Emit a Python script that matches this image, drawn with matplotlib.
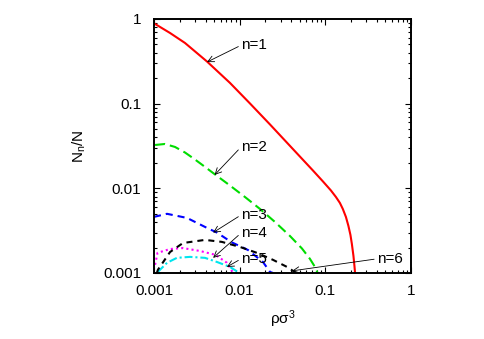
import matplotlib
matplotlib.use("Agg")
import matplotlib.pyplot as plt
from matplotlib.ticker import FixedLocator, FuncFormatter, LogLocator, NullFormatter

plt.rcParams['font.family'] = ['Liberation Sans', 'DejaVu Sans']
plt.rcParams['mathtext.fontset'] = 'custom'
plt.rcParams['mathtext.rm'] = 'Liberation Sans'
plt.rcParams['mathtext.it'] = 'Liberation Sans:italic'
plt.rcParams['font.size'] = 11

# fraction of clusters of size n
x1 = [0.00103, 0.00154, 0.0023, 0.00415, 0.0077, 0.0132, 0.0226, 0.0407, 0.0716, 0.0938,
      0.1161, 0.133, 0.148, 0.160, 0.174, 0.186, 0.1964, 0.204, 0.213, 0.2188, 0.2244]
y1 = [0.873, 0.683, 0.521, 0.315, 0.176, 0.1005, 0.0568, 0.030, 0.01626, 0.01206,
      0.00945, 0.0079, 0.00672, 0.00571, 0.00459, 0.0036, 0.00282, 0.00221, 0.00159, 0.00121, 0.0009]

x2 = [0.00103, 0.00134, 0.00176, 0.0023, 0.00301, 0.00394, 0.00515, 0.0077, 0.01153, 0.01726,
      0.0258, 0.0386, 0.0533, 0.0661, 0.0757, 0.082]
y2 = [0.0325, 0.0334, 0.0308, 0.0265, 0.0219, 0.0179, 0.0146, 0.0108, 0.0079, 0.00571,
      0.00401, 0.00274, 0.00195, 0.00147, 0.00118, 0.00098]

x3 = [0.001, 0.00142, 0.00243, 0.00394, 0.00543, 0.0081, 0.0125, 0.0187, 0.0226, 0.0245]
y3 = [0.0046, 0.005, 0.00447, 0.0035, 0.003, 0.0023, 0.00187, 0.00135, 0.00103, 0.001]

x4 = [0.00103, 0.0011, 0.00154, 0.00218, 0.00344, 0.0052, 0.0071, 0.0084]
y4 = [0.00125, 0.00173, 0.00192, 0.00197, 0.00182, 0.00164, 0.00132, 0.001]

x5 = [0.00111, 0.00142, 0.00185, 0.00263, 0.00394, 0.00543, 0.0077, 0.0095, 0.0101]
y5 = [0.00103, 0.00132, 0.00151, 0.00155, 0.00151, 0.00135, 0.00118, 0.00103, 0.00098]

x6 = [0.00108, 0.00111, 0.00154, 0.00218, 0.00394, 0.0062, 0.0101, 0.0159, 0.0245, 0.0357, 0.0419, 0.045]
y6 = [0.001, 0.00109, 0.00177, 0.00226, 0.00246, 0.00233, 0.00203, 0.00173, 0.00143, 0.00118, 0.00106, 0.001]

labels = ['n=1', 'n=2', 'n=3', 'n=4', 'n=5', 'n=6']
# (text x, text y, arrow tip x, arrow tip y)
label_pos = [
    (0.0104, 0.49, 0.00416, 0.31),
    (0.0104, 0.0308, 0.0051, 0.0144),
    (0.0104, 0.00485, 0.0049, 0.003),
    (0.0104, 0.00297, 0.0049, 0.00151),
    (0.0104, 0.00147, 0.0071, 0.00118),
    (0.40, 0.00147, 0.041, 0.00106),
]

fig = plt.figure(figsize=(4.85, 3.39), dpi=100)
ax = fig.add_axes([0.3175, 0.1947, 0.5299, 0.7493])

lw = 1.5
ax.plot(x1, y1, color='#ff0000', lw=lw)
ax.plot(x2, y2, color='#00dd00', lw=lw, dashes=(4.8, 2.4))
ax.plot(x3, y3, color='#0000ff', lw=lw, dashes=(3.4, 2.4))
ax.plot(x4, y4, color='#ff00ff', lw=lw, dashes=(1.0, 1.5))
ax.plot(x5, y5, color='#00e5ee', lw=lw, dashes=(3.8, 1.4, 1.0, 1.4))
ax.plot(x6, y6, color='black', lw=lw, dashes=(2.9, 2.4))

for lab, (tx, ty, ax_, ay) in zip(labels, label_pos):
    ax.annotate(lab, xy=(ax_, ay), xytext=(tx, ty), ha='left', va='center',
                fontsize=11,
                arrowprops=dict(arrowstyle='->', lw=0.6, color='black',
                                shrinkA=0, shrinkB=0, relpos=(0, 0.5)))

ax.set_xscale('log')
ax.set_yscale('log')
ax.set_xlim(0.001, 1)
ax.set_ylim(0.001, 1)

fmt = FuncFormatter(lambda v, p: f'{v:g}')
for axis in (ax.xaxis, ax.yaxis):
    axis.set_major_locator(FixedLocator([0.001, 0.01, 0.1, 1]))
    axis.set_major_formatter(fmt)
    axis.set_minor_locator(LogLocator(base=10, subs=range(2, 10)))
    axis.set_minor_formatter(NullFormatter())

ax.tick_params(which='both', direction='in', top=True, right=True, width=0.8)
ax.tick_params(which='major', length=4, labelsize=11)
ax.tick_params(axis='x', which='major', pad=8)
ax.tick_params(axis='y', which='major', pad=9)
ax.tick_params(which='minor', length=2)
for s in ax.spines.values():
    s.set_linewidth(1.4)

ax.set_xlabel(r'ρσ$^{\mathregular{3}}$', fontsize=11)
ax.xaxis.set_label_coords(0.5, -0.14)
ax.set_ylabel(r'N$_{\mathregular{n}}$/N', fontsize=11)
ax.yaxis.set_label_coords(-0.255, 0.5)

fig.savefig('out.png', dpi=100)
